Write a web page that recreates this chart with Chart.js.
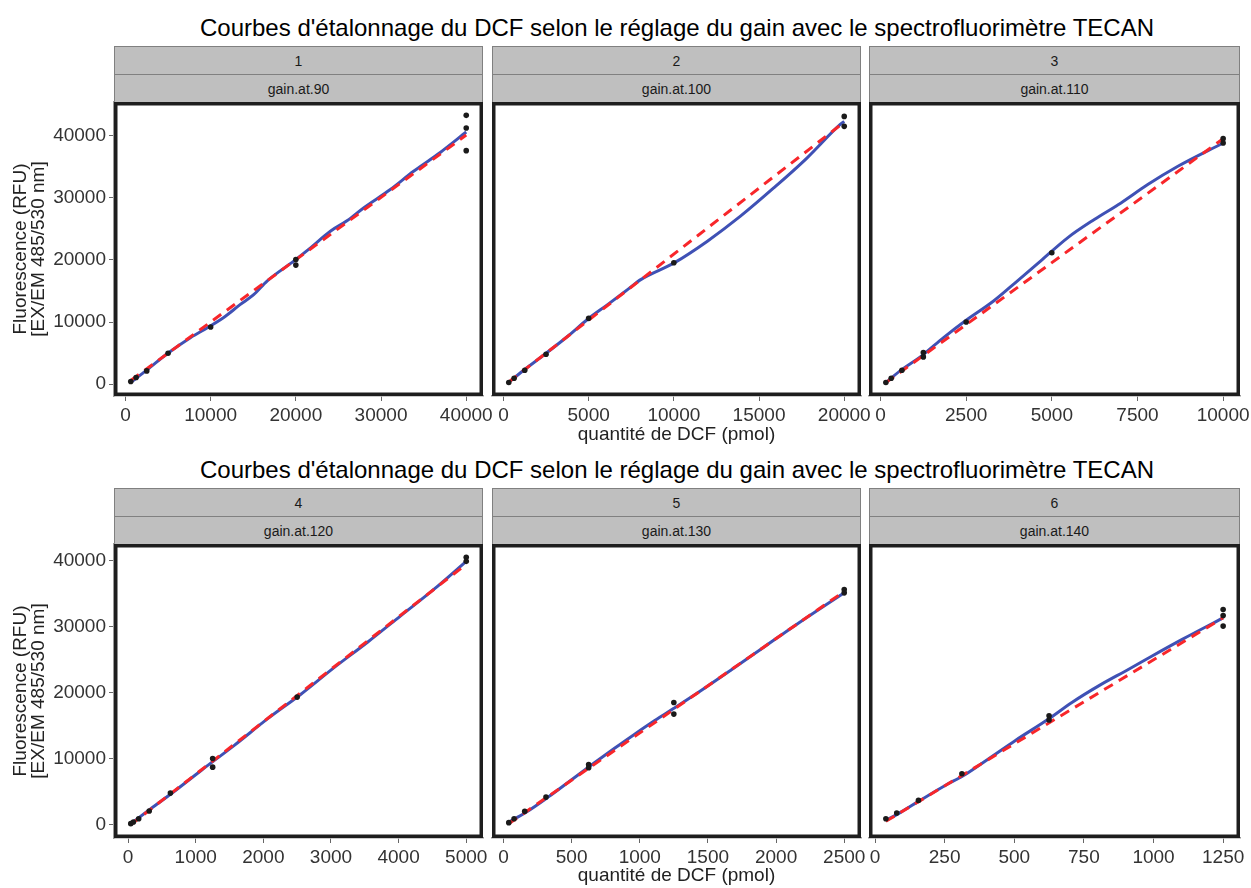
<!DOCTYPE html>
<html>
<head>
<meta charset="utf-8">
<script src="https://cdn.jsdelivr.net/npm/chart.js"></script>
<style>
    html, body { margin: 0; padding: 0; background: #fff; overflow: hidden; }
    body { width: 1251px; height: 888px; position: relative; font-family: "Liberation Sans", Arial, sans-serif; }
    .title { position: absolute; left: 114px; width: 1126px; text-align: center; font-size: 24px; line-height: 24px; color: #000; white-space: nowrap; }
    .strip { position: absolute; box-sizing: border-box; background: #bfbfbf; border: 1px solid #808080;
             display: flex; align-items: center; justify-content: center; font-size: 14px; color: #1a1a1a; }
    canvas { position: absolute; }
</style>
</head>
<body>
<script>
    // --- text ---
    const mainTitle = "Courbes d'étalonnage du DCF selon le réglage du gain avec le spectrofluorimètre TECAN";
    const facetNumbers = ['1', '2', '3', '4', '5', '6'];
    const gainLabels = ['gain.at.90', 'gain.at.100', 'gain.at.110', 'gain.at.120', 'gain.at.130', 'gain.at.140'];
    const xTitle = 'quantité de DCF (pmol)';
    const yTitle = ['Fluorescence (RFU)', '[EX/EM 485/530 nm]'];

    // --- tick labels ---
    const yTicks = [0, 10000, 20000, 30000, 40000];
    const xTicks90 = [0, 10000, 20000, 30000, 40000];
    const xTicks100 = [0, 5000, 10000, 15000, 20000];
    const xTicks110 = [0, 2500, 5000, 7500, 10000];
    const xTicks120 = [0, 1000, 2000, 3000, 4000, 5000];
    const xTicks130 = [0, 500, 1000, 1500, 2000, 2500];
    const xTicks140 = [0, 250, 500, 750, 1000, 1250];

    // --- measured points [pmol, RFU] ---
    const points90 = [[625, 430], [1250, 1070], [2500, 2140], [5000, 4980], [10000, 9210], [20000, 20080], [20000, 19170], [40000, 43270], [40000, 41230], [40000, 37590]];
    const points100 = [[312, 270], [625, 960], [1250, 2250], [2500, 4820], [5000, 10600], [10000, 19550], [20000, 43100], [20000, 41500]];
    const points110 = [[156, 270], [312, 960], [625, 2250], [1250, 5090], [1250, 4390], [2500, 10010], [5000, 21150], [10000, 39520], [10000, 38820]];
    const points120 = [[39, 150], [78, 400], [156, 900], [312, 2060], [625, 4770], [1250, 10000], [1250, 8700], [2500, 19300], [5000, 40450], [5000, 39850]];
    const points130 = [[39, 300], [78, 900], [156, 2010], [312, 4170], [625, 9100], [625, 8600], [1250, 18490], [1250, 16730], [2500, 35580], [2500, 35080]];
    const points140 = [[39, 900], [78, 1760], [156, 3670], [312, 7690], [625, 16480], [625, 15830], [1250, 32560], [1250, 31660], [1250, 30050]];

    // --- loess curve (blue) ---
    const loess90 = [[625, 300], [2540, 2300], [4890, 4900], [7625, 7490], [9970, 9370], [11700, 10900], [13490, 12850], [15050, 14400], [16620, 16600], [19750, 19810], [21500, 21700], [24050, 24630], [26000, 26300], [27950, 28370], [31090, 31330], [33820, 34270], [36950, 37300], [40000, 40590]];
    const loess100 = [[312, 300], [1265, 2400], [2430, 4820], [3790, 7760], [4960, 10500], [6130, 12850], [7300, 15260], [8080, 16870], [10020, 19530], [11970, 23020], [13910, 27040], [15860, 31580], [17810, 36400], [19750, 41770], [20000, 42300]];
    const loess110 = [[156, 250], [570, 2140], [1200, 4550], [1840, 7500], [2470, 10170], [3300, 13390], [3990, 16600], [4670, 19810], [5460, 23560], [6240, 26510], [7020, 29180], [7800, 32130], [8680, 35070], [10000, 38820]];
    const loess120 = [[39, 150], [295, 2100], [690, 5100], [1080, 8200], [1570, 12000], [2060, 16000], [2550, 19700], [3050, 23800], [3540, 27600], [4030, 31600], [4520, 35600], [5000, 39850]];
    const loess130 = [[39, 400], [160, 1800], [330, 4200], [500, 6800], [670, 9400], [815, 11550], [960, 13650], [1110, 15750], [1250, 17600], [1450, 20300], [1670, 23400], [1910, 26850], [2150, 30300], [2500, 35100]];
    const loess140 = [[39, 650], [84, 1660], [162, 3670], [252, 5930], [318, 7440], [407, 9950], [503, 12710], [623, 15980], [707, 18490], [803, 21000], [911, 23520], [995, 25530], [1103, 28040], [1250, 31300]];

    // --- linear fit (red dashed) ---
    const fit90 = [[625, 600], [40000, 40100]];
    const fit100 = [[312, 360], [20000, 42180]];
    const fit110 = [[156, 250], [10000, 39500]];
    const fit120 = [[39, 0], [5000, 39400]];
    const fit130 = [[39, 150], [2500, 35300]];
    const fit140 = [[39, 500], [1250, 31300]];

    const panels = [
        { pts: points90, loess: loess90, fit: fit90, xt: xTicks90 },
        { pts: points100, loess: loess100, fit: fit100, xt: xTicks100 },
        { pts: points110, loess: loess110, fit: fit110, xt: xTicks110 },
        { pts: points120, loess: loess120, fit: fit120, xt: xTicks120 },
        { pts: points130, loess: loess130, fit: fit130, xt: xTicks130 },
        { pts: points140, loess: loess140, fit: fit140, xt: xTicks140 },
    ];

    // layout (px)
    const colLeft = [114, 492, 869];
    const colWidth = [369, 369, 371];
    const rowTop = [102, 544];
    const plotH = 294;
    const stripTop = [46, 488];
    const titleTop = [15.5, 457.5];
    const axisW = 114, padTop = 20, padRight = 30;
    const axisH = [55, 49];
    const FONT = '"Liberation Sans", Arial, sans-serif';

    Chart.defaults.font.family = FONT;

    // ggplot-like 5% expansion
    function expand(vals) {
        const lo = Math.min(...vals), hi = Math.max(...vals);
        const d = (hi - lo) * 0.05;
        return [lo - d, hi + d];
    }
    const allXY = p => [...p.pts, ...p.loess, ...p.fit];
    const yRange = [0, 1].map(r =>
        expand(panels.slice(r * 3, r * 3 + 3).flatMap(p => allXY(p).map(v => v[1]))));

    const panelBorder = {
        id: 'panelBorder',
        afterDatasetsDraw(chart) {
            const { ctx, chartArea: a } = chart;
            ctx.save();
            ctx.strokeStyle = '#1e1e1e';
            ctx.lineWidth = 3.5;
            ctx.strokeRect(a.left + 1.75, a.top + 1.75, a.width - 3.5, a.height - 3.5);
            ctx.restore();
        }
    };

    [0, 1].forEach(r => {
        const t = document.createElement('div');
        t.className = 'title';
        t.style.top = titleTop[r] + 'px';
        t.textContent = mainTitle;
        document.body.appendChild(t);
    });

    panels.forEach((p, i) => {
        const r = Math.floor(i / 3), c = i % 3;

        // facet strips
        [[facetNumbers[i], 0], [gainLabels[i], 28]].forEach(([txt, off]) => {
            const s = document.createElement('div');
            s.className = 'strip';
            s.style.left = colLeft[c] + 'px';
            s.style.width = colWidth[c] + 'px';
            s.style.top = (stripTop[r] + off) + 'px';
            s.style.height = '29px';
            s.textContent = txt;
            document.body.appendChild(s);
        });

        const cv = document.createElement('canvas');
        const w = axisW + colWidth[c] + padRight;
        const h = padTop + plotH + axisH[r];
        cv.width = w; cv.height = h;
        cv.style.width = w + 'px'; cv.style.height = h + 'px';
        cv.style.left = (colLeft[c] - axisW) + 'px';
        cv.style.top = (rowTop[r] - padTop) + 'px';
        document.body.appendChild(cv);

        const xr = expand(allXY(p).map(v => v[0]));
        const toXY = arr => arr.map(([x, y]) => ({ x, y }));

        new Chart(cv, {
            type: 'scatter',
            data: {
                datasets: [
                    {
                        label: 'mesures', data: toXY(p.pts), showLine: false,
                        pointRadius: 2.8, pointBackgroundColor: '#1a1a1a', pointBorderWidth: 0, order: 0
                    },
                    {
                        label: 'lm', data: toXY(p.fit), showLine: true, borderColor: '#f8262a',
                        borderWidth: 3, borderDash: [10, 7], pointRadius: 0, order: 1
                    },
                    {
                        label: 'loess', data: toXY(p.loess), showLine: true, borderColor: '#3f51b5',
                        borderWidth: 3, pointRadius: 0, cubicInterpolationMode: 'monotone', order: 2
                    }
                ]
            },
            options: {
                responsive: false,
                animation: false,
                events: [],
                layout: { padding: { top: padTop, right: padRight, left: 0, bottom: 0 } },
                plugins: { legend: { display: false }, tooltip: { enabled: false } },
                scales: {
                    x: {
                        type: 'linear', min: xr[0], max: xr[1],
                        afterBuildTicks: s => { s.ticks = p.xt.map(v => ({ value: v })); },
                        afterFit: s => { s.height = axisH[r]; },
                        ticks: {
                            font: { size: 19 }, color: '#333', padding: 3, autoSkip: false, maxRotation: 0,
                            callback: v => String(v)
                        },
                        grid: { display: true, drawOnChartArea: false, drawTicks: true, tickLength: 5, color: '#666', lineWidth: 1 },
                        border: { display: true, color: '#999', width: 1.5 },
                        title: {
                            display: c === 1, text: xTitle, font: { size: 19 }, color: '#222',
                            padding: { top: 0, bottom: r === 0 ? 5 : 0 }
                        }
                    },
                    y: {
                        type: 'linear', min: yRange[r][0], max: yRange[r][1],
                        afterBuildTicks: s => { s.ticks = yTicks.map(v => ({ value: v })); },
                        afterFit: s => { s.width = axisW; },
                        ticks: {
                            display: c === 0, font: { size: 19 }, color: '#333', padding: 3,
                            callback: v => String(v)
                        },
                        grid: { display: c === 0, drawOnChartArea: false, drawTicks: true, tickLength: 5, color: '#666', lineWidth: 1 },
                        border: { display: c === 0, color: '#999', width: 1.5 },
                        title: {
                            display: c === 0, text: yTitle, font: { size: 19, lineHeight: 0.95 }, color: '#222',
                            padding: { top: 12, bottom: 0 }
                        }
                    }
                }
            },
            plugins: [panelBorder]
        });
    });
</script>
</body>
</html>
